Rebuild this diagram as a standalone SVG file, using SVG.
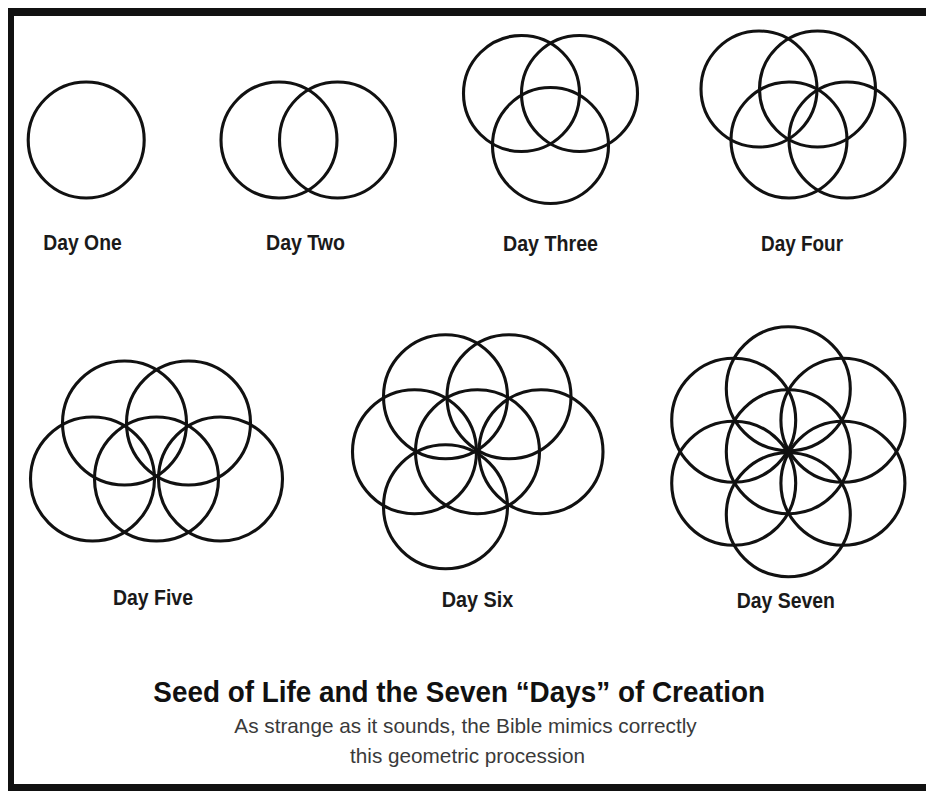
<svg xmlns="http://www.w3.org/2000/svg" width="926" height="791" viewBox="0 0 926 791">
<style>
.c{fill:none;stroke:#111;stroke-width:3.1}
.lbl{font-family:"Liberation Sans",Arial,sans-serif;font-weight:bold;font-size:22px;fill:#1a1a1a}
.title{font-family:"Liberation Sans",Arial,sans-serif;font-weight:bold;font-size:29.5px;fill:#111}
.sub{font-family:"Liberation Sans",Arial,sans-serif;font-size:21px;fill:#3a3a3a}
</style>
<rect x="0" y="0" width="926" height="791" fill="#fff"/>
<rect x="8" y="8" width="918" height="783" fill="#111"/>
<rect x="14" y="16" width="912" height="768" fill="#fff"/>
<g id="day-one">
<circle class="c" cx="86.2" cy="140" r="58"/>
<text class="lbl" x="43.3" y="250" textLength="78.4" lengthAdjust="spacingAndGlyphs">Day One</text>
</g>
<g id="day-two">
<circle class="c" cx="279" cy="140" r="58"/>
<circle class="c" cx="337.5" cy="140" r="58"/>
<text class="lbl" x="266" y="250" textLength="79" lengthAdjust="spacingAndGlyphs">Day Two</text>
</g>
<g id="day-three">
<circle class="c" cx="521.5" cy="93.5" r="58"/>
<circle class="c" cx="579.5" cy="93.5" r="58"/>
<circle class="c" cx="550.5" cy="145.5" r="58"/>
<text class="lbl" x="503" y="250.5" textLength="95" lengthAdjust="spacingAndGlyphs">Day Three</text>
</g>
<g id="day-four">
<circle class="c" cx="759" cy="89" r="58"/>
<circle class="c" cx="817.5" cy="89" r="58"/>
<circle class="c" cx="789" cy="140" r="58"/>
<circle class="c" cx="847" cy="140" r="58"/>
<text class="lbl" x="761" y="251" textLength="82" lengthAdjust="spacingAndGlyphs">Day Four</text>
</g>
<g id="day-five">
<circle class="c" cx="124.5" cy="423" r="62"/>
<circle class="c" cx="188.5" cy="423" r="62"/>
<circle class="c" cx="92.5" cy="479" r="62"/>
<circle class="c" cx="156.5" cy="479" r="62"/>
<circle class="c" cx="220.5" cy="479" r="62"/>
<text class="lbl" x="113" y="605" textLength="80" lengthAdjust="spacingAndGlyphs">Day Five</text>
</g>
<g id="day-six">
<circle class="c" cx="445.5" cy="396.7" r="62"/>
<circle class="c" cx="509" cy="396.7" r="62"/>
<circle class="c" cx="414.5" cy="451.7" r="62"/>
<circle class="c" cx="477.5" cy="451.7" r="62"/>
<circle class="c" cx="541" cy="451.7" r="62"/>
<circle class="c" cx="445.5" cy="506.7" r="62"/>
<text class="lbl" x="441.7" y="607" textLength="71.6" lengthAdjust="spacingAndGlyphs">Day Six</text>
</g>
<g id="day-seven">
<circle class="c" cx="788.3" cy="451.7" r="62"/>
<circle class="c" cx="788.3" cy="388.7" r="62"/>
<circle class="c" cx="788.3" cy="514.7" r="62"/>
<circle class="c" cx="733.7" cy="420.2" r="62"/>
<circle class="c" cx="842.9" cy="420.2" r="62"/>
<circle class="c" cx="733.7" cy="483.2" r="62"/>
<circle class="c" cx="842.9" cy="483.2" r="62"/>
<text class="lbl" x="736.7" y="608" textLength="98.3" lengthAdjust="spacingAndGlyphs">Day Seven</text>
</g>
<g id="connectors"></g>
<g id="caption">
<text class="title" x="153.3" y="702.3" textLength="611.7" lengthAdjust="spacingAndGlyphs">Seed of Life and the Seven “Days” of Creation</text>
<text class="sub" x="234.3" y="732.7" textLength="462.4" lengthAdjust="spacingAndGlyphs">As strange as it sounds, the Bible mimics correctly</text>
<text class="sub" x="350" y="762.7" textLength="235" lengthAdjust="spacingAndGlyphs">this geometric procession</text>
</g>
</svg>
